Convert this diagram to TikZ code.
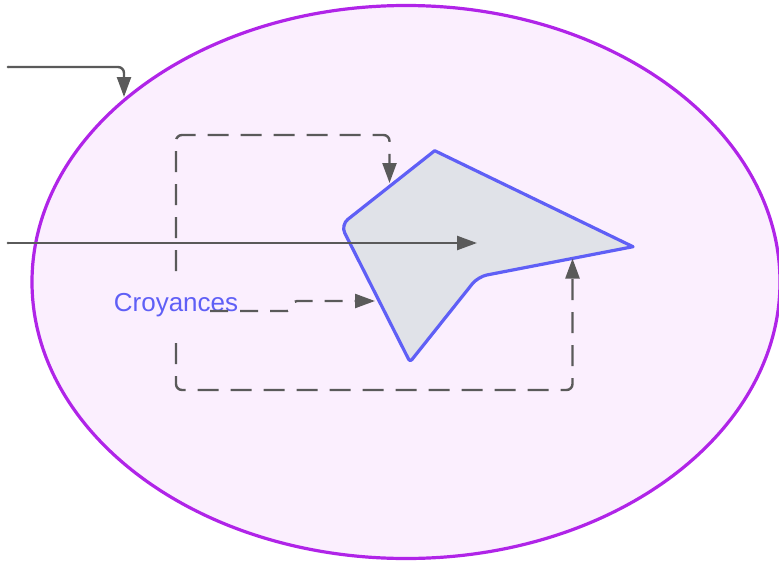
\documentclass[tikz,border=0pt]{standalone}
\usepackage{fontspec}
\setmainfont{Liberation Sans}
\usetikzlibrary{arrows.meta,shapes.geometric}
\definecolor{linegray}{HTML}{5A5A5A}
\definecolor{ellstroke}{HTML}{B024E8}
\definecolor{ellfill}{HTML}{FBEFFE}
\definecolor{shapefill}{HTML}{E0E2E8}
\definecolor{shapestroke}{HTML}{5F5FF6}
\begin{document}
\begin{tikzpicture}[x=1pt,y=-1pt,
  conn/.style={draw=linegray,line width=2.4pt,-{Triangle[length=20pt,width=14pt]},rounded corners=6pt},
  dconn/.style={conn,dash pattern=on 21pt off 12pt},
  lbl/.style={text=shapestroke,font=\fontsize{26}{31}\selectfont,inner sep=0pt}]
\useasboundingbox (0,0) rectangle (779,565);
\node[ellipse,draw=ellstroke,fill=ellfill,line width=3.2pt,minimum width=748pt,minimum height=553pt,inner sep=0pt] (ell) at (406,282) {};
% shape
\coordinate (top) at (434.7,150.7);
\coordinate (tip) at (633,246.7);
\coordinate (inn) at (478,276.7);
\coordinate (bot) at (410,362);
\coordinate (lft) at (340.7,225);
\draw[fill=shapefill,draw=shapestroke,line width=3.2pt,line join=round]
  (top) -- (tip) [rounded corners=9pt] -- (inn) [rounded corners=3pt] -- (bot) [rounded corners=9pt] -- (lft) [sharp corners] -- cycle;
\node[lbl] (croy) at (176,305.5) {Croyances};
% coordinates
\coordinate (s1) at (8,67);
\coordinate (e1) at (124,97);
\coordinate (s2) at (8,243);
\coordinate (e2) at (477,243);
\coordinate (d1s) at (176,271);
\coordinate (d1e) at (389.5,183);
\coordinate (d2s) at (176,343);
\coordinate (d2e) at (572.5,258.5);
\coordinate (d3s) at (210,311);
\coordinate (d3e) at (375,301);
\draw[conn] (s1) -- (124,67) -- (e1);
\draw[conn] (s2) -- (e2);
\draw[dconn] (d1s) -- (176,135) -- (389.5,135) -- (d1e);
\draw[dconn] (d2s) -- (176,390) -- (572.5,390) -- (d2e);
\draw[conn,dash pattern=on 18pt off 12pt,rounded corners=4pt] (d3s) -- (291,311) -- (293,301) -- (d3e);
\fill[linegray] (s1) circle (1.4pt) (s2) circle (1.4pt);
\end{tikzpicture}
\end{document}
